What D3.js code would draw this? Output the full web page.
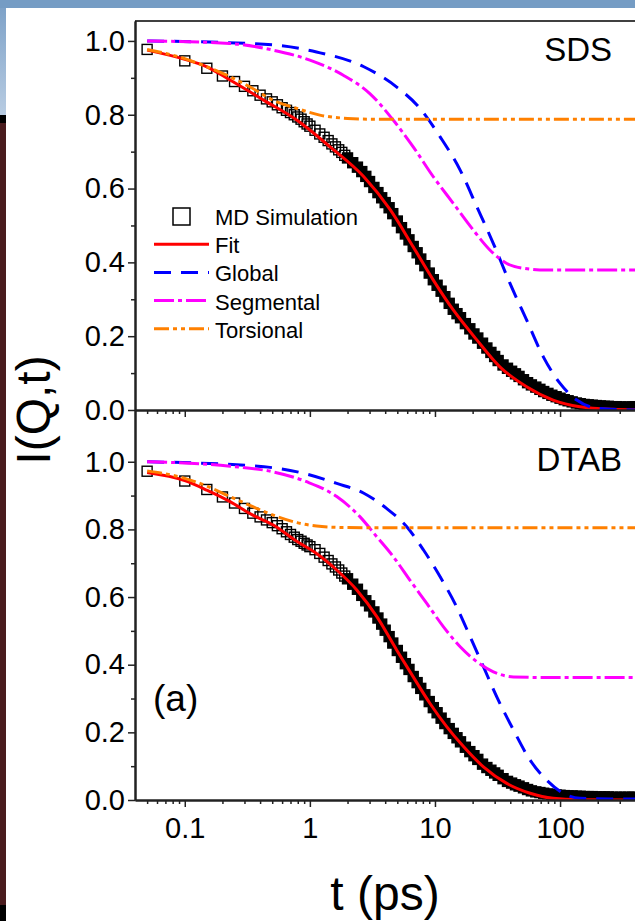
<!DOCTYPE html>
<html>
<head>
<meta charset="utf-8">
<script src="https://cdn.jsdelivr.net/npm/d3@7"></script>
<style>
    body { margin: 0; background: #fff; overflow: hidden; }
    svg { display: block; font-family: "Liberation Sans", Arial, sans-serif; }
</style>
</head>
<body>
<script>
// MD simulation sample times (ps), shared by both panels
const tMD = [0.05, 0.1, 0.15, 0.2, 0.25, 0.3, 0.35, 0.4, 0.45, 0.5, 0.55, 0.6, 0.65, 0.7, 0.75, 0.8, 0.85, 0.9, 0.95, 1.0,
    1.1, 1.2, 1.3, 1.4, 1.5, 1.6, 1.7, 1.8, 1.9, 2.0, 2.2, 2.4, 2.6, 2.8, 3.0,
    3.25, 3.5, 3.75, 4, 4.3, 4.6, 5, 5.4, 5.8, 6.2, 6.7, 7.2, 7.7, 8.3, 9, 9.7, 10.4, 11.2, 12, 13,
    14, 15, 16, 17.5, 19, 20.5, 22, 24, 26, 28, 30, 32, 35, 38, 41, 44, 47, 51, 55, 59,
    64, 69, 74, 80, 86, 93, 100, 108, 116, 125, 135, 145, 156, 168, 181, 195, 210, 226, 243, 262,
    282, 304, 327, 352, 380, 400];

const mdSDS = [0.977, 0.946, 0.926, 0.905, 0.890, 0.877, 0.865, 0.853, 0.843, 0.835, 0.827, 0.819, 0.812, 0.806, 0.800, 0.794, 0.788, 0.781, 0.775, 0.769,
    0.758, 0.748, 0.739, 0.730, 0.721, 0.713, 0.705, 0.698, 0.690, 0.683, 0.670, 0.658, 0.646, 0.633, 0.619,
    0.603, 0.589, 0.575, 0.562, 0.548, 0.532, 0.512, 0.494, 0.477, 0.461, 0.443, 0.426, 0.409, 0.391, 0.371, 0.353, 0.338, 0.322, 0.307, 0.289,
    0.273, 0.261, 0.250, 0.234, 0.220, 0.206, 0.195, 0.181, 0.168, 0.156, 0.145, 0.134, 0.122, 0.113, 0.105, 0.098, 0.091, 0.082, 0.074, 0.068,
    0.062, 0.056, 0.050, 0.045, 0.040, 0.036, 0.032, 0.028, 0.025, 0.022, 0.019, 0.017, 0.015, 0.014, 0.013, 0.012, 0.011, 0.010, 0.010, 0.009,
    0.009, 0.008, 0.008, 0.008, 0.008, 0.009];

const mdDTAB = [0.972, 0.943, 0.918, 0.896, 0.878, 0.862, 0.848, 0.837, 0.828, 0.820, 0.811, 0.802, 0.793, 0.785, 0.777, 0.770, 0.765, 0.759, 0.754, 0.749,
    0.740, 0.729, 0.718, 0.708, 0.698, 0.689, 0.680, 0.671, 0.662, 0.654, 0.638, 0.623, 0.605, 0.589, 0.574,
    0.556, 0.538, 0.520, 0.502, 0.483, 0.464, 0.442, 0.422, 0.403, 0.386, 0.365, 0.347, 0.330, 0.311, 0.291, 0.273, 0.258, 0.242, 0.226, 0.211,
    0.197, 0.184, 0.172, 0.156, 0.143, 0.131, 0.120, 0.106, 0.096, 0.088, 0.080, 0.073, 0.063, 0.055, 0.050, 0.045, 0.041, 0.036, 0.031, 0.027,
    0.024, 0.022, 0.020, 0.018, 0.016, 0.015, 0.014, 0.013, 0.012, 0.012, 0.011, 0.011, 0.010, 0.010, 0.010, 0.009, 0.009, 0.009, 0.009, 0.008,
    0.008, 0.008, 0.008, 0.008, 0.008, 0.008];

// SDS model curves
const tFitSDS = [0.05, 0.1, 0.15, 0.23, 0.43, 0.79, 1.45, 2.7, 4.4, 6.7, 9.7, 14, 21.6, 33, 54, 88, 144, 265, 500];
const fitSDS = [0.975, 0.950, 0.930, 0.894, 0.839, 0.785, 0.713, 0.632, 0.542, 0.442, 0.352, 0.271, 0.190, 0.117, 0.063, 0.027, 0.009, 0.002, 0];
const tGlobalSDS = [0.05, 0.43, 1.13, 2.7, 4.95, 7.6, 11, 15.9, 21.6, 29.3, 39.8, 54, 73.5, 100, 136, 196, 300, 500];
const globalSDS = [1.0, 0.991, 0.970, 0.930, 0.875, 0.817, 0.740, 0.650, 0.551, 0.451, 0.343, 0.244, 0.144, 0.072, 0.027, 0.005, 0.001, 0];
const tSegSDS = [0.05, 0.23, 0.51, 1.0, 1.85, 3.0, 4.65, 6.7, 9.7, 14, 20.3, 27.6, 37.5, 51, 78, 150, 500];
const segSDS = [1.0, 0.993, 0.975, 0.948, 0.907, 0.858, 0.785, 0.713, 0.632, 0.560, 0.487, 0.433, 0.397, 0.384, 0.379, 0.379, 0.379];
const tTorSDS = [0.05, 0.1, 0.15, 0.23, 0.35, 0.51, 0.79, 1.2, 2.0, 3.0, 500];
const torSDS = [0.977, 0.952, 0.930, 0.903, 0.871, 0.839, 0.817, 0.799, 0.790, 0.788, 0.788];

// DTAB model curves
const tFitDTAB = [0.05, 0.1, 0.15, 0.23, 0.35, 0.51, 0.79, 1.13, 1.64, 2.37, 3.43, 4.95, 6.7, 9.1, 12.4, 16.9, 24.4, 37.5, 57.6, 88, 144, 500];
const fitDTAB = [0.968, 0.944, 0.916, 0.882, 0.842, 0.813, 0.764, 0.729, 0.680, 0.621, 0.542, 0.443, 0.364, 0.286, 0.217, 0.158, 0.098, 0.049, 0.020, 0.005, 0.001, 0];
const tGlobalDTAB = [0.05, 0.43, 0.89, 1.64, 2.7, 4.1, 5.95, 8.1, 11, 14.9, 19.1, 24.4, 31.2, 42.4, 57.6, 78, 106, 144, 250, 500];
const globalDTAB = [1.0, 0.985, 0.966, 0.936, 0.907, 0.862, 0.808, 0.739, 0.660, 0.571, 0.483, 0.394, 0.305, 0.207, 0.118, 0.059, 0.020, 0.005, 0.003, 0.003];
const tSegDTAB = [0.05, 0.23, 0.51, 0.94, 1.64, 2.52, 3.43, 4.65, 6.3, 8.6, 11.7, 15.9, 21.6, 29.3, 42.4, 80, 500];
const segDTAB = [1.0, 0.987, 0.970, 0.941, 0.897, 0.837, 0.778, 0.719, 0.650, 0.581, 0.512, 0.453, 0.409, 0.379, 0.364, 0.362, 0.362];
const tTorDTAB = [0.05, 0.1, 0.15, 0.23, 0.35, 0.51, 0.79, 1.13, 1.64, 3, 500];
const torDTAB = [0.973, 0.951, 0.928, 0.897, 0.867, 0.842, 0.820, 0.810, 0.806, 0.805, 0.805];

const panelNames = ['SDS', 'DTAB'];
const legendLabels = ['MD Simulation', 'Fit', 'Global', 'Segmental', 'Torsional'];
const xMajorTicks = [0.1, 1, 10, 100];
const xMinorTicks = [0.05, 0.06, 0.07, 0.08, 0.09, 0.2, 0.3, 0.4, 0.5, 0.6, 0.7, 0.8, 0.9,
    2, 3, 4, 5, 6, 7, 8, 9, 20, 30, 40, 50, 60, 70, 80, 90, 200, 300, 400];
const yMajorTicks = [0, 0.2, 0.4, 0.6, 0.8, 1.0];
const yMinorTicks = [0.1, 0.3, 0.5, 0.7, 0.9];

const width = 635;
const height = 921;

const svg = d3.select('body')
    .append('svg')
    .attr('width', width)
    .attr('height', height);

// screenshot frame around the figure
const grad = svg.append('defs').append('linearGradient')
    .attr('id', 'edgeBlue').attr('x1', 0).attr('y1', 0).attr('x2', 0).attr('y2', 1);
grad.append('stop').attr('offset', '0%').attr('stop-color', '#7a9fc6');
grad.append('stop').attr('offset', '100%').attr('stop-color', '#b8cce2');
svg.append('rect').attr('x', 0).attr('y', 0).attr('width', 6).attr('height', 115).attr('fill', 'url(#edgeBlue)');
svg.append('rect').attr('x', 0).attr('y', 115).attr('width', 6).attr('height', 8).attr('fill', '#000');
svg.append('rect').attr('x', 0).attr('y', 123).attr('width', 6).attr('height', 782).attr('fill', '#4a1c1e');
svg.append('rect').attr('x', 0).attr('y', 905).attr('width', 6).attr('height', 16).attr('fill', '#000');
svg.append('rect').attr('x', 0).attr('y', 0).attr('width', width).attr('height', 8).attr('fill', '#759cc4');

const xScale = d3.scaleLog()
    .domain([0.04, 500])
    .range([135, 647.5]);

const panels = [
    {top: 21, bottom: 410, yMax: 1.054, md: mdSDS,
        curves: [[tFitSDS, fitSDS], [tGlobalSDS, globalSDS], [tSegSDS, segSDS], [tTorSDS, torSDS]]},
    {top: 410, bottom: 800, yMax: 1.153, md: mdDTAB,
        curves: [[tFitDTAB, fitDTAB], [tGlobalDTAB, globalDTAB], [tSegDTAB, segDTAB], [tTorDTAB, torDTAB]]}
];

const curveStyles = [
    {color: '#ff0000', dash: null},
    {color: '#0000ff', dash: '17,10'},
    {color: '#ff00ff', dash: '20,4,4,4'},
    {color: '#ff8000', dash: '15,4,4,4,4,4'}
];

function styleAxis(g, size) {
    g.attr('font-family', null).attr('font-size', null);
    g.select('.domain').attr('stroke', '#222').attr('stroke-width', 2);
    g.selectAll('.tick line').attr('stroke', '#222').attr('stroke-width', 1.5);
    g.selectAll('.tick text').attr('fill', '#000').style('font-size', size + 'px');
}

panels.forEach(function (p, i) {
    const yScale = d3.scaleLinear()
        .domain([0, p.yMax])
        .range([p.bottom, p.top]);

    svg.append('clipPath').attr('id', 'clip' + i)
        .append('rect')
        .attr('x', 135).attr('y', p.top)
        .attr('width', 520).attr('height', p.bottom - p.top + 1);

    const plot = svg.append('g').attr('clip-path', 'url(#clip' + i + ')');

    // MD points; where the simulation frames pile up the squares merge into a solid band
    plot.selectAll('.md')
        .data(tMD.map(function (t, k) { return {t: t, v: p.md[k]}; }))
        .enter().append('rect')
        .attr('class', 'md')
        .attr('x', function (d) { return xScale(d.t) - 5; })
        .attr('y', function (d) { return yScale(d.v) - 5; })
        .attr('width', 10)
        .attr('height', 10)
        .attr('fill', function (d) { return d.t >= 2 ? '#000' : 'none'; })
        .attr('stroke', '#000')
        .attr('stroke-width', 1.4);

    const lineFunc = d3.line()
        .x(function (d) { return xScale(d[0]); })
        .y(function (d) { return yScale(d[1]); })
        .curve(d3.curveMonotoneX);

    p.curves.forEach(function (c, k) {
        const pts = c[0].map(function (t, j) { return [t, c[1][j]]; });
        plot.append('path')
            .datum(pts)
            .attr('fill', 'none')
            .attr('stroke', curveStyles[k].color)
            .attr('stroke-width', 3)
            .attr('stroke-dasharray', curveStyles[k].dash)
            .attr('d', lineFunc);
    });

    // y axis: minor then major ticks
    svg.append('g')
        .attr('transform', 'translate(135,0)')
        .call(d3.axisLeft(yScale).tickValues(yMinorTicks).tickSize(4).tickSizeOuter(0).tickFormat(''))
        .call(styleAxis, 29);
    svg.append('g')
        .attr('transform', 'translate(135,0)')
        .call(d3.axisLeft(yScale).tickValues(yMajorTicks).tickSize(7).tickSizeOuter(0).tickPadding(3)
            .tickFormat(d3.format('.1f')))
        .call(styleAxis, 29);

    // x axis along the bottom of each panel
    svg.append('g')
        .attr('transform', 'translate(0,' + p.bottom + ')')
        .call(d3.axisBottom(xScale).tickValues(xMinorTicks).tickSize(4).tickSizeOuter(0).tickFormat(''))
        .call(styleAxis, 29);
    svg.append('g')
        .attr('transform', 'translate(0,' + p.bottom + ')')
        .call(d3.axisBottom(xScale).tickValues(xMajorTicks).tickSize(7).tickSizeOuter(0).tickPadding(10)
            .tickFormat(i === 1 ? d3.format('~g') : ''))
        .call(styleAxis, 29);

    svg.append('text')
        .attr('x', i === 0 ? 612 : 622)
        .attr('y', i === 0 ? 61 : 471)
        .attr('text-anchor', 'end')
        .style('font-size', '33px')
        .text(panelNames[i]);
});

// frame line along the top of the upper panel
svg.append('line')
    .attr('x1', 135).attr('x2', 650)
    .attr('y1', 21).attr('y2', 21)
    .attr('stroke', '#000').attr('stroke-width', 1.5);

svg.append('text')
    .attr('x', 153)
    .attr('y', 711)
    .style('font-size', '37px')
    .text('(a)');

// legend in the SDS panel
const legend = svg.append('g').attr('transform', 'translate(0,225)');
legendLabels.forEach(function (label, k) {
    const y = k * 28.2;
    if (k === 0) {
        legend.append('rect')
            .attr('x', 173).attr('y', y - 17)
            .attr('width', 17).attr('height', 17)
            .attr('fill', 'none').attr('stroke', '#000').attr('stroke-width', 1.5);
    } else {
        legend.append('line')
            .attr('x1', 154).attr('x2', 209)
            .attr('y1', y - 9).attr('y2', y - 9)
            .attr('stroke', curveStyles[k - 1].color)
            .attr('stroke-width', 3)
            .attr('stroke-dasharray', curveStyles[k - 1].dash);
    }
    legend.append('text')
        .attr('x', 215)
        .attr('y', y)
        .style('font-size', '22px')
        .text(label);
});

// axis titles
svg.append('text')
    .attr('transform', 'translate(50,410) rotate(-90)')
    .attr('text-anchor', 'middle')
    .style('font-size', '48px')
    .text('I(Q,t)');

svg.append('text')
    .attr('x', 385)
    .attr('y', 910)
    .attr('text-anchor', 'middle')
    .style('font-size', '48px')
    .text('t (ps)');
</script>
</body>
</html>
